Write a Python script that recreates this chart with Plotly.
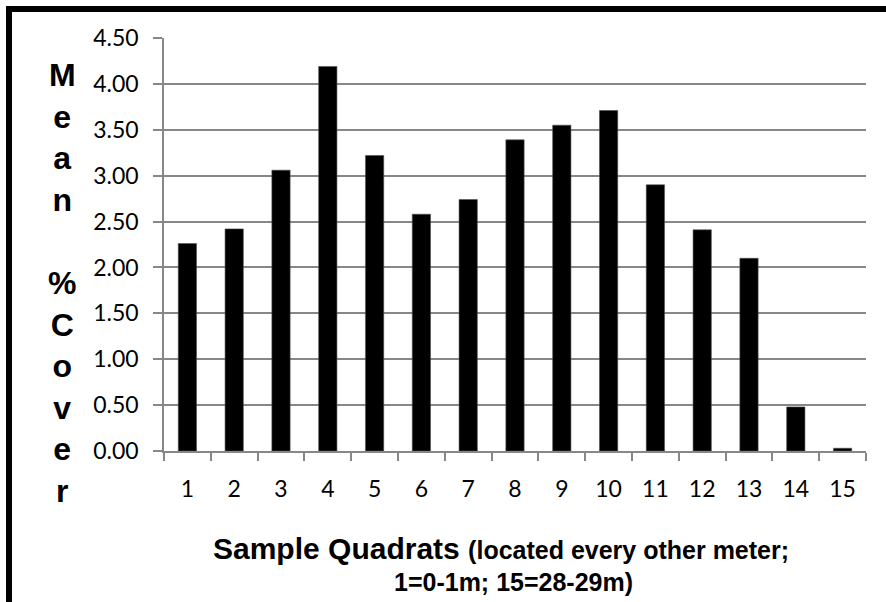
import plotly.graph_objects as go

quadrats = [str(i) for i in range(1, 16)]
mean_cover = [2.26, 2.42, 3.06, 4.19, 3.22, 2.58, 2.74, 3.39, 3.55, 3.71, 2.90, 2.41, 2.10, 0.48, 0.03]
y_ticks = [0, 0.5, 1.0, 1.5, 2.0, 2.5, 3.0, 3.5, 4.0, 4.5]
y_title_letters = ["M", "e", "a", "n", "", "%", "C", "o", "v", "e", "r"]

W, H = 886, 602
L, R, T, B = 164, 20, 38, 151
pw, ph = W - L - R, H - T - B

def px_x(x):
    return (x - L) / pw

def px_y(y):
    return (H - B - y) / ph

GRID = "#878787"

fig = go.Figure(go.Bar(x=quadrats, y=mean_cover, marker=dict(color="black", line=dict(color="#505050", width=0.6))))

fig.update_layout(
    width=W, height=H,
    margin=dict(l=L, r=R, t=T, b=B, pad=0),
    paper_bgcolor="white", plot_bgcolor="white",
    bargap=0.61,
    showlegend=False,
    font=dict(family="Lato", size=23, color="black"),
)
fig.update_xaxes(
    type="category", tickson="boundaries", showgrid=False,
    showline=True, linecolor=GRID, linewidth=1.5,
    ticks="outside", ticklen=8, tickwidth=1.5, tickcolor=GRID,
    ticklabelstandoff=17,
    tickfont=dict(family="Lato", size=23, color="black"),
)
fig.update_yaxes(
    range=[0, 4.5], tickvals=y_ticks, tickformat=".2f",
    showgrid=True, gridcolor=GRID, gridwidth=1.5,
    showline=True, linecolor=GRID, linewidth=1.5,
    ticks="outside", ticklen=9, tickwidth=1.5, tickcolor=GRID,
    ticklabelstandoff=10, zeroline=False,
    tickfont=dict(family="Lato", size=23, color="black"),
)

ann = []
ann.append(dict(
    text="<b>" + "<br>".join(y_title_letters) + "</b>", xref="paper", yref="paper",
    x=px_x(62), y=px_y(283), xanchor="center", yanchor="middle", showarrow=False,
    font=dict(family="Liberation Sans", size=32, color="black"), align="center",
))
ann.append(dict(
    text="<b>Sample Quadrats</b> <b><span style='font-size:25px'>(located every other meter;</span></b>",
    xref="paper", yref="paper", x=px_x(501), y=px_y(548), xanchor="center", yanchor="middle",
    showarrow=False, font=dict(family="Liberation Sans", size=30, color="black"),
))
ann.append(dict(
    text="<b>1=0-1m; 15=28-29m)</b>",
    xref="paper", yref="paper", x=px_x(513), y=px_y(582), xanchor="center", yanchor="middle",
    showarrow=False, font=dict(family="Liberation Sans", size=25, color="black"),
))
fig.update_layout(annotations=ann)

fig.add_shape(type="rect", xref="paper", yref="paper",
              x0=px_x(9), x1=px_x(900), y0=px_y(620), y1=px_y(9),
              line=dict(color="black", width=6), fillcolor="rgba(0,0,0,0)", layer="above")

fig.write_html("out.html")
